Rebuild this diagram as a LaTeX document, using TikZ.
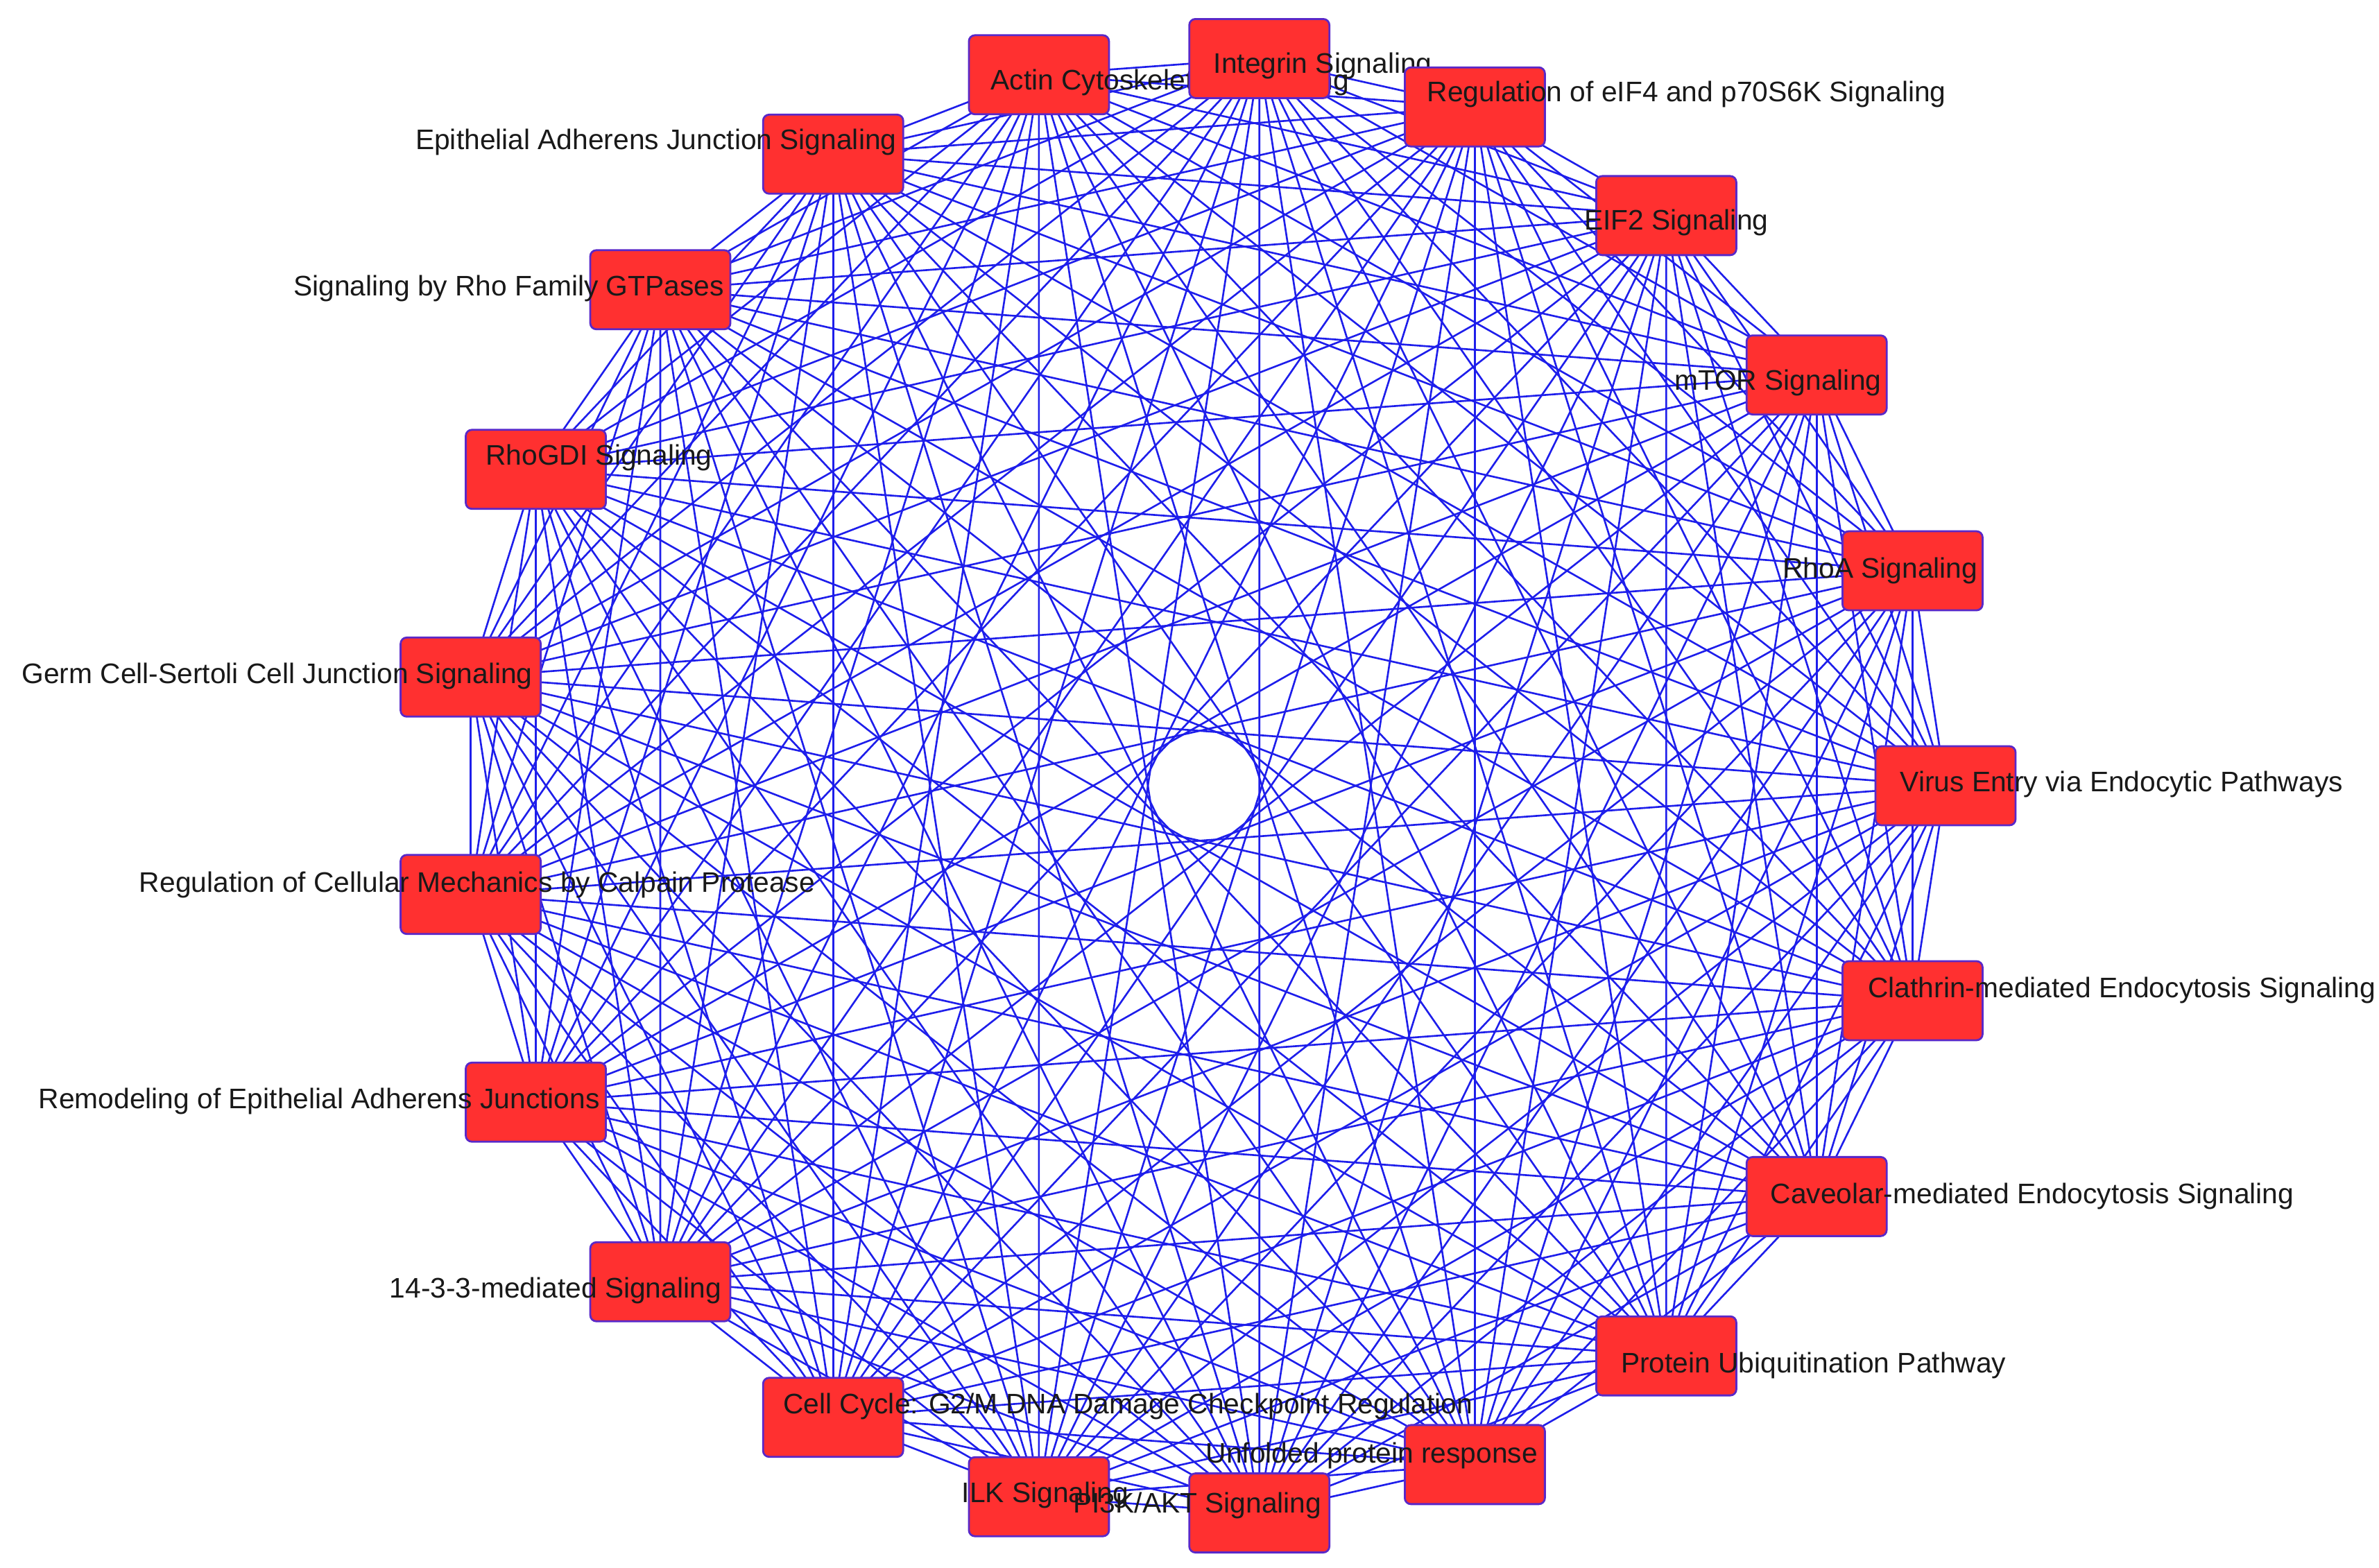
\documentclass[tikz,border=0pt]{standalone}
\usepackage{fontspec}
\setmainfont{Liberation Sans}
\definecolor{boxred}{RGB}{255,48,48}
\definecolor{boxedge}{RGB}{90,40,200}
\definecolor{edgeblue}{RGB}{30,30,235}
\begin{document}
\begin{tikzpicture}[x=0.022cm,y=-0.022cm,
  box/.style={draw=boxedge,line width=0.8pt,fill=boxred,rounded corners=2.5pt,minimum width=2.02cm,minimum height=1.14cm,inner sep=0pt},
  lab/.style={anchor=west,inner sep=0pt,text=black!90,font=\fontsize{11.6}{13}\selectfont},
  edge/.style={draw=edgeblue,line width=0.75pt}]
\useasboundingbox (0,0) rectangle (1559.1,1027.7);
\fill[white] (0,0) rectangle (1559.1,1027.7);
\foreach \k in {0,...,20}{
  \coordinate (n\k) at ({789+486*cos(\k*360/21)},{515-478*sin(\k*360/21)});
}
\foreach \i in {0,...,19}{
  \pgfmathtruncatemacro{\s}{\i+1}
  \foreach \j in {\s,...,20}{
    \draw[edge] (n\i) -- (n\j);
  }
}
\foreach \k/\lx/\ly/\t in {
  6/649/54/{Actin Cytoskeleton Signaling},
  5/795/43/{Integrin Signaling},
  4/935/62/{Regulation of eIF4 and p70S6K Signaling},
  3/1038/146/{EIF2 Signaling},
  2/1097/251/{mTOR Signaling},
  1/1168/374/{RhoA Signaling},
  0/1245/514/{Virus Entry via Endocytic Pathways},
  20/1224/649/{Clathrin-mediated Endocytosis Signaling},
  19/1160/784/{Caveolar-mediated Endocytosis Signaling},
  18/1062/895/{Protein Ubiquitination Pathway},
  15/630/980/{ILK Signaling},
  16/703/987/{PI3K/AKT Signaling},
  17/790/954/{Unfolded protein response},
  14/513/922/{Cell Cycle: G2/M DNA Damage Checkpoint Regulation},
  13/255/846/{14-3-3-mediated Signaling},
  12/25/722/{Remodeling of Epithelial Adherens Junctions},
  11/91/580/{Regulation of Cellular Mechanics by Calpain Protease},
  10/14/443/{Germ Cell-Sertoli Cell Junction Signaling},
  9/318/300/{RhoGDI Signaling},
  8/192/189/{Signaling by Rho Family GTPases},
  7/272/93/{Epithelial Adherens Junction Signaling}}{
  \node[box] (b\k) at (n\k) {};
  \node[lab] (l\k) at (\lx,\ly) {\t};
}
\end{tikzpicture}
\end{document}
